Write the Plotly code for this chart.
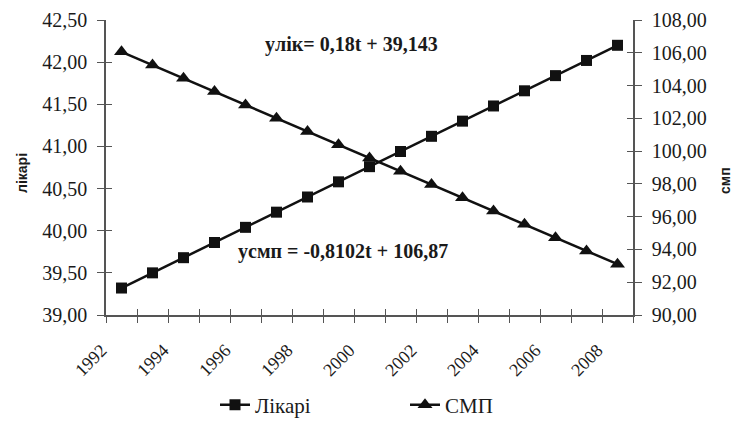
import plotly.graph_objects as go

years = [1992, 1993, 1994, 1995, 1996, 1997, 1998, 1999, 2000, 2001, 2002,
         2003, 2004, 2005, 2006, 2007, 2008]
likari = [39.32, 39.50, 39.68, 39.86, 40.04, 40.22, 40.40, 40.58, 40.76, 40.94,
          41.12, 41.30, 41.48, 41.66, 41.84, 42.02, 42.20]
smp = [106.06, 105.25, 104.44, 103.63, 102.82, 102.01, 101.20, 100.39, 99.58,
       98.77, 97.96, 97.15, 96.34, 95.53, 94.72, 93.91, 93.10]
label_years = [1992, 1994, 1996, 1998, 2000, 2002, 2004, 2006, 2008]
left_ticks = [39.0, 39.5, 40.0, 40.5, 41.0, 41.5, 42.0, 42.5]
right_ticks = [90, 92, 94, 96, 98, 100, 102, 104, 106, 108]

SERIF = "Liberation Serif"
SANS = "Liberation Sans"
INK = "#1a1a1a"
AX = "#555555"

xr = [years[0] - 0.5, years[-1] + 0.5]
yr1 = [left_ticks[0], left_ticks[-1]]
yr2 = [right_ticks[0], right_ticks[-1]]
boundaries = [y - 0.5 for y in years] + [years[-1] + 0.5]

fig = go.Figure()
fig.add_trace(go.Scatter(
    x=years, y=likari, name="Лікарі", mode="lines+markers",
    line=dict(color="#111111", width=2.5),
    marker=dict(symbol="square", size=11, color="#111111"),
    xaxis="x", yaxis="y"))
fig.add_trace(go.Scatter(
    x=years, y=smp, name="СМП", mode="lines+markers",
    line=dict(color="#111111", width=2.5),
    marker=dict(symbol="triangle-up", size=13, color="#111111"),
    xaxis="x", yaxis="y2"))
# helper traces so the inner-tick axes (giving crossing tick marks) are drawn
fig.add_trace(go.Scatter(x=[years[0]], y=[yr1[0]], mode="none", showlegend=False,
                         hoverinfo="skip", xaxis="x2", yaxis="y3"))
fig.add_trace(go.Scatter(x=[years[0]], y=[yr2[0]], mode="none", showlegend=False,
                         hoverinfo="skip", xaxis="x2", yaxis="y4"))

fig.update_layout(
    width=741, height=423,
    margin=dict(l=106, r=108, t=20, b=108, autoexpand=False),
    paper_bgcolor="white", plot_bgcolor="white",
    separators=", ",
    showlegend=True,
    font=dict(family=SERIF, color=INK),
    xaxis=dict(
        range=xr, automargin=False,
        tickmode="array", tickvals=label_years,
        ticktext=[str(v) for v in label_years],
        tickangle=-45, ticks="", showgrid=False, zeroline=False,
        showline=True, linecolor=AX, linewidth=1.5,
        tickfont=dict(family=SERIF, size=18, color=INK),
        ticklabelshift=-20, ticklabelstandoff=16,
        minor=dict(tickmode="array", tickvals=boundaries, ticks="outside",
                   ticklen=6, tickcolor=AX, tickwidth=1.2, showgrid=False),
    ),
    xaxis2=dict(
        range=xr, automargin=False, overlaying="x", side="bottom", anchor="y",
        tickmode="array", tickvals=boundaries, ticks="inside", ticklen=6,
        tickcolor=AX, tickwidth=1.2, showticklabels=False, showgrid=False,
        zeroline=False, showline=False,
    ),
    yaxis=dict(
        range=yr1, tickmode="array", tickvals=left_ticks, automargin=False,
        tickformat=".2f", ticks="outside", ticklen=7, tickcolor=AX, tickwidth=1.2,
        showgrid=False, zeroline=False, showline=True, linecolor=AX,
        linewidth=1.5, ticklabelstandoff=6,
        tickfont=dict(family=SERIF, size=20, color=INK),
    ),
    yaxis2=dict(
        range=yr2, tickmode="array", tickvals=right_ticks, automargin=False,
        tickformat=".2f", ticks="outside", ticklen=7, tickcolor=AX, tickwidth=1.2,
        overlaying="y", side="right", anchor="x",
        showgrid=False, zeroline=False, showline=True, linecolor=AX,
        linewidth=1.5, ticklabelstandoff=6,
        tickfont=dict(family=SERIF, size=20, color=INK),
    ),
    yaxis3=dict(
        range=yr1, tickmode="array", tickvals=left_ticks, automargin=False,
        overlaying="y", side="left", anchor="x2",
        ticks="inside", ticklen=6, tickcolor=AX, tickwidth=1.2,
        showticklabels=False, showgrid=False, zeroline=False, showline=False,
    ),
    yaxis4=dict(
        range=yr2, tickmode="array", tickvals=right_ticks, automargin=False,
        overlaying="y", side="right", anchor="x2",
        ticks="inside", ticklen=6, tickcolor=AX, tickwidth=1.2,
        showticklabels=False, showgrid=False, zeroline=False, showline=False,
    ),
    legend=dict(
        orientation="h", x=(215 - 0) / 741, xanchor="left", xref="container",
        y=-0.305, yanchor="middle",
        font=dict(family=SERIF, size=21, color=INK),
        entrywidth=145, entrywidthmode="pixels",
        bgcolor="rgba(0,0,0,0)",
    ),
    annotations=[
        dict(text="<b>yлік= 0,18t + 39,143</b>", xref="paper", yref="paper",
             x=(351 - 106) / 527, y=(315 - 44) / 295, showarrow=False,
             xanchor="center", yanchor="middle",
             font=dict(family=SERIF, size=20, color=INK)),
        dict(text="<b>yсмп = -0,8102t + 106,87</b>", xref="paper", yref="paper",
             x=(343 - 106) / 527, y=(315 - 251) / 295, showarrow=False,
             xanchor="center", yanchor="middle",
             font=dict(family=SERIF, size=20, color=INK)),
        dict(text="<b>лікарі</b>", xref="paper", yref="paper",
             x=(22 - 106) / 527, y=(315 - 173) / 295, showarrow=False,
             xanchor="center", yanchor="middle", textangle=-90,
             font=dict(family=SANS, size=14, color=INK)),
        dict(text="<b>смп</b>", xref="paper", yref="paper",
             x=(725 - 106) / 527, y=(315 - 181) / 295, showarrow=False,
             xanchor="center", yanchor="middle", textangle=-90,
             font=dict(family=SANS, size=14, color=INK)),
    ],
)

fig.write_html("out.html")
